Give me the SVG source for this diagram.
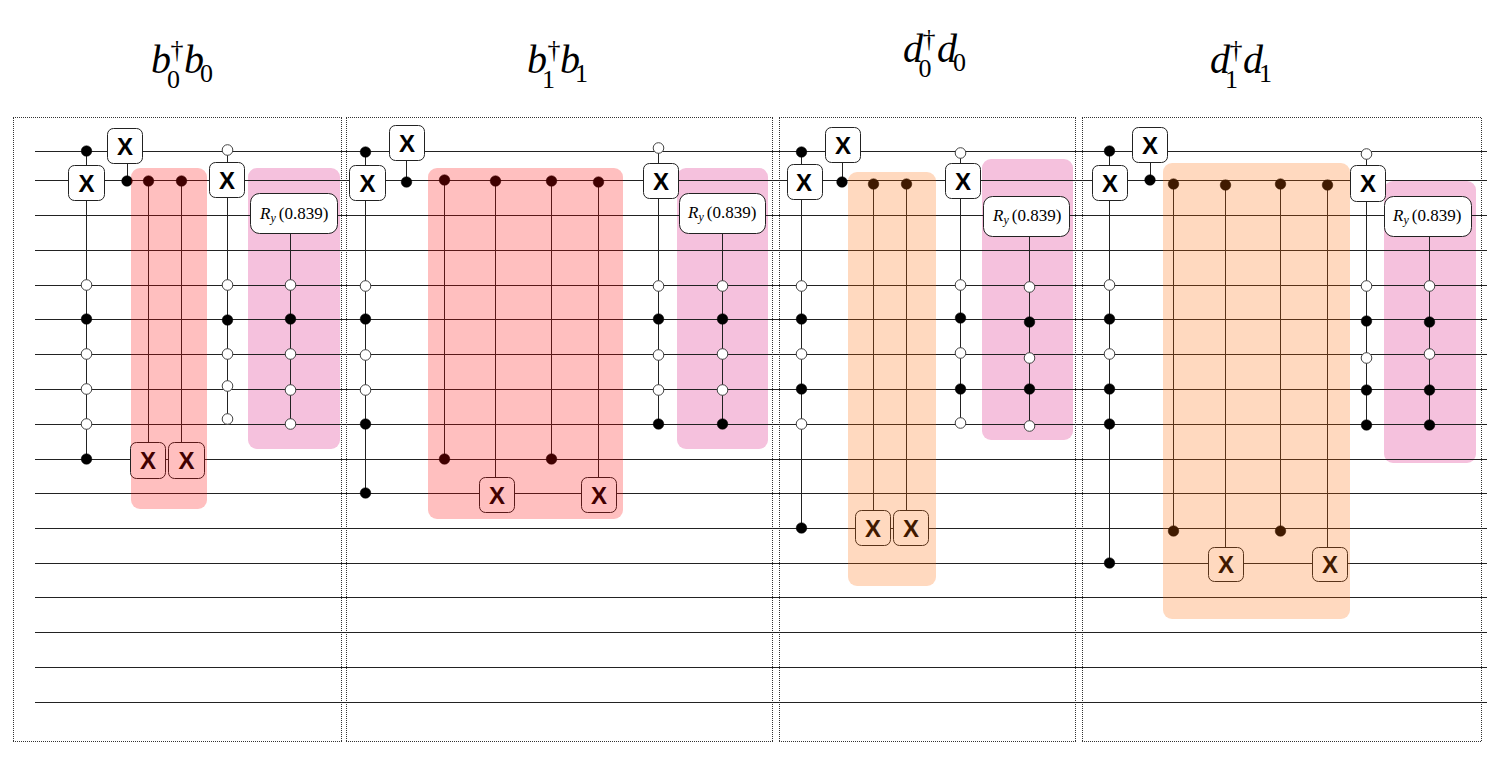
<svg xmlns="http://www.w3.org/2000/svg" width="1491" height="783" viewBox="0 0 1491 783">
<style>
.frame{fill:none;stroke:#333;stroke-width:1;stroke-dasharray:1 1;shape-rendering:crispEdges}
.wire{stroke:#222;stroke-width:1;fill:none}
.b{fill:#000;stroke:#000;stroke-width:.5;r:5.300px}
.w{fill:#fff;stroke:#444;stroke-width:1;r:5.300px}
.box{fill:#fff;stroke:#222;stroke-width:1}
.x{font:bold 24px "Liberation Sans",Arial,sans-serif;text-anchor:middle;fill:#000}
.ry{font:17px "Liberation Serif","Times New Roman",serif;fill:#000}
.i{font-style:italic}
.t{font:italic 40px "Liberation Serif","Times New Roman",serif;fill:#000}
.s{font:26px "Liberation Serif","Times New Roman",serif;fill:#000}
.pink{fill:#f5c1dd}
.red{fill:#f00;fill-opacity:.25}
.org{fill:#f60;fill-opacity:.25}
</style>
<g id="titles">
<g id="title-b0"><text class="t" x="151" y="73">b</text><text class="s" x="170.500" y="58">†</text><text class="s" x="167" y="88">0</text><text class="t" x="184" y="73">b</text><text class="s" x="200" y="82">0</text></g>
<g id="title-b1"><text class="t" x="527" y="73">b</text><text class="s" x="547.500" y="58">†</text><text class="s" x="542" y="88">1</text><text class="t" x="560" y="73">b</text><text class="s" x="575" y="82">1</text></g>
<g id="title-d0"><text class="t" x="903" y="62">d</text><text class="s" x="922.500" y="47">†</text><text class="s" x="918.500" y="77">0</text><text class="t" x="937" y="62">d</text><text class="s" x="953" y="71">0</text></g>
<g id="title-d1"><text class="t" x="1210" y="73">d</text><text class="s" x="1229.500" y="58">†</text><text class="s" x="1225" y="88">1</text><text class="t" x="1243" y="73">d</text><text class="s" x="1259" y="82">1</text></g>
</g>
<g id="frames" class="frame">
<path d="M13 117.500H342M13 741.500H342M13.500 118V742M341.500 118V742"/>
<path d="M346 117.500H773M346 741.500H773M346.500 118V742M772.500 118V742"/>
<path d="M779 117.500H1076M779 741.500H1076M779.500 118V742M1075.500 118V742"/>
<path d="M1082 117.500H1482M1082 741.500H1482M1082.500 118V742M1481.500 118V742"/>
</g>
<g id="backgrounds">
<rect class="pink" x="248" y="168" width="92" height="281" rx="9"/>
<rect class="pink" x="677" y="168" width="91" height="281" rx="9"/>
<rect class="pink" x="982" y="159" width="91" height="281" rx="9"/>
<rect class="pink" x="1384" y="181" width="92" height="282" rx="9"/>
</g>
<g id="connectors" class="wire">
<path d="M35 151.500H1487M35 180.500H1487M35 215.500H1487M35 250.500H1487M35 285.500H1487M35 319.500H1487M35 354.500H1487M35 389.500H1487M35 424.500H1487M35 459.500H1487M35 493.500H1487M35 528.500H1487M35 563.500H1487M35 597.500H1487M35 632.500H1487M35 667.500H1487M35 702.500H1487"/>
<path d="M86.500 151V459M127.500 163V181M148.500 181V442M181.500 181V442M227.500 150V419M290.500 233V424"/>
<path d="M365.500 152V493M406.500 161V182M444.500 180V459M495.500 181V477M551.500 181V459M598.500 182V477M658.500 148V424M722.500 233V424"/>
<path d="M801.500 152V528M842.500 162V182M873.500 184V510M906.500 184V510M960.500 153V423M1029.500 236V426"/>
<path d="M1109.500 151V563M1150.500 162V180M1173.500 185V531M1225.500 185V547M1280.500 185V531M1327.500 185V547M1366.500 154V425M1429.500 236V425"/>
</g>
<g id="gate-b0-1"><circle class="b" cx="86.500" cy="151"/><rect class="box" x="68.500" y="165.500" width="36" height="35" rx="6"/><text class="x" x="86.500" y="192">X</text><circle class="w" cx="86.500" cy="285"/><circle class="b" cx="86.500" cy="319"/><circle class="w" cx="86.500" cy="354"/><circle class="w" cx="86.500" cy="389"/><circle class="w" cx="86.500" cy="424"/><circle class="b" cx="86.500" cy="459"/></g>
<g id="gate-b0-2"><rect class="box" x="107.500" y="128.500" width="35" height="35" rx="6"/><text class="x" x="125" y="155">X</text><circle class="b" cx="127" cy="181"/></g>
<g id="gate-b0-3"><circle class="b" cx="148.500" cy="181"/><rect class="box" x="130.500" y="442.500" width="35" height="36" rx="6"/><text class="x" x="148" y="469">X</text></g>
<g id="gate-b0-4"><circle class="b" cx="181.500" cy="181"/><rect class="box" x="168.500" y="442.500" width="36" height="36" rx="6"/><text class="x" x="186.500" y="469">X</text></g>
<g id="gate-b0-5"><circle class="w" cx="227.500" cy="150"/><rect class="box" x="209.500" y="162.500" width="35" height="35" rx="6"/><text class="x" x="227" y="189">X</text><circle class="w" cx="227.500" cy="285"/><circle class="b" cx="227.500" cy="320"/><circle class="w" cx="227.500" cy="354"/><circle class="w" cx="227.500" cy="386"/><circle class="w" cx="227.500" cy="419"/></g>
<g id="gate-b0-6"><rect class="box" x="250.500" y="193.500" width="87" height="40" rx="9"/><text class="ry" x="260" y="219"><tspan class="i">R</tspan><tspan class="i" font-size="12" dy="3">y</tspan><tspan dy="-3" dx="3">(0.839)</tspan></text><circle class="w" cx="290.500" cy="285"/><circle class="b" cx="290.500" cy="319"/><circle class="w" cx="290.500" cy="354"/><circle class="w" cx="290.500" cy="390"/><circle class="w" cx="290.500" cy="424"/></g>
<g id="gate-b1-1"><circle class="b" cx="365.500" cy="152"/><rect class="box" x="349.500" y="165.500" width="36" height="35" rx="6"/><text class="x" x="367.500" y="192">X</text><circle class="w" cx="365.500" cy="286"/><circle class="b" cx="365.500" cy="319"/><circle class="w" cx="365.500" cy="355"/><circle class="w" cx="365.500" cy="390"/><circle class="b" cx="365.500" cy="424"/><circle class="b" cx="365.500" cy="493"/></g>
<g id="gate-b1-2"><rect class="box" x="389.500" y="125.500" width="35" height="35" rx="6"/><text class="x" x="407" y="152">X</text><circle class="b" cx="406.500" cy="182"/></g>
<g id="gate-b1-3"><circle class="b" cx="444.500" cy="180"/><circle class="b" cx="444.500" cy="459"/></g>
<g id="gate-b1-4"><circle class="b" cx="495.500" cy="181"/><rect class="box" x="479.500" y="477.500" width="35" height="35" rx="6"/><text class="x" x="497" y="504">X</text></g>
<g id="gate-b1-5"><circle class="b" cx="551.500" cy="181"/><circle class="b" cx="551.500" cy="459"/></g>
<g id="gate-b1-6"><circle class="b" cx="598.500" cy="182"/><rect class="box" x="581.500" y="477.500" width="35" height="35" rx="6"/><text class="x" x="599" y="504">X</text></g>
<g id="gate-b1-7"><circle class="w" cx="658.500" cy="148"/><rect class="box" x="643.500" y="163.500" width="35" height="35" rx="6"/><text class="x" x="661" y="190">X</text><circle class="w" cx="658.500" cy="286"/><circle class="b" cx="658.500" cy="319"/><circle class="w" cx="658.500" cy="355"/><circle class="w" cx="658.500" cy="390"/><circle class="b" cx="658.500" cy="424"/></g>
<g id="gate-b1-8"><rect class="box" x="679.500" y="193.500" width="86" height="40" rx="9"/><text class="ry" x="688" y="218"><tspan class="i">R</tspan><tspan class="i" font-size="12" dy="3">y</tspan><tspan dy="-3" dx="3">(0.839)</tspan></text><circle class="w" cx="722.500" cy="286"/><circle class="b" cx="722.500" cy="319"/><circle class="w" cx="722.500" cy="354"/><circle class="w" cx="722.500" cy="390"/><circle class="b" cx="722.500" cy="424"/></g>
<g id="gate-d0-1"><circle class="b" cx="801.500" cy="152"/><rect class="box" x="787.500" y="164.500" width="35" height="35" rx="6"/><text class="x" x="804" y="191">X</text><circle class="w" cx="801.500" cy="286"/><circle class="b" cx="801.500" cy="319"/><circle class="w" cx="801.500" cy="354"/><circle class="b" cx="801.500" cy="389"/><circle class="w" cx="801.500" cy="424"/><circle class="b" cx="801.500" cy="528"/></g>
<g id="gate-d0-2"><rect class="box" x="825.500" y="127.500" width="35" height="35" rx="6"/><text class="x" x="843" y="154">X</text><circle class="b" cx="842" cy="182"/></g>
<g id="gate-d0-3"><circle class="b" cx="873.500" cy="184"/><rect class="box" x="855.500" y="510.500" width="35" height="35" rx="6"/><text class="x" x="873" y="537">X</text></g>
<g id="gate-d0-4"><circle class="b" cx="906.500" cy="184"/><rect class="box" x="893.500" y="510.500" width="35" height="35" rx="6"/><text class="x" x="911" y="537">X</text></g>
<g id="gate-d0-5"><circle class="w" cx="960.500" cy="153"/><rect class="box" x="945.500" y="163.500" width="35" height="35" rx="6"/><text class="x" x="963" y="190">X</text><circle class="w" cx="960.500" cy="285"/><circle class="b" cx="960.500" cy="318"/><circle class="w" cx="960.500" cy="353"/><circle class="b" cx="960.500" cy="389"/><circle class="w" cx="960.500" cy="423"/></g>
<g id="gate-d0-6"><rect class="box" x="983.500" y="196.500" width="86" height="40" rx="9"/><text class="ry" x="993" y="221"><tspan class="i">R</tspan><tspan class="i" font-size="12" dy="3">y</tspan><tspan dy="-3" dx="3">(0.839)</tspan></text><circle class="w" cx="1029.500" cy="287"/><circle class="b" cx="1029.500" cy="322"/><circle class="w" cx="1029.500" cy="358"/><circle class="b" cx="1029.500" cy="389"/><circle class="w" cx="1029.500" cy="426"/></g>
<g id="gate-d1-1"><circle class="b" cx="1109.500" cy="151"/><rect class="box" x="1092.500" y="165.500" width="35" height="35" rx="6"/><text class="x" x="1110" y="192">X</text><circle class="w" cx="1109.500" cy="285"/><circle class="b" cx="1109.500" cy="319"/><circle class="w" cx="1109.500" cy="354"/><circle class="b" cx="1109.500" cy="389"/><circle class="b" cx="1109.500" cy="424"/><circle class="b" cx="1109.500" cy="563"/></g>
<g id="gate-d1-2"><rect class="box" x="1132.500" y="127.500" width="35" height="35" rx="6"/><text class="x" x="1150" y="154">X</text><circle class="b" cx="1150" cy="180"/></g>
<g id="gate-d1-3"><circle class="b" cx="1173.500" cy="184"/><circle class="b" cx="1173.500" cy="531"/></g>
<g id="gate-d1-4"><circle class="b" cx="1225.500" cy="185"/><rect class="box" x="1208.500" y="547.500" width="35" height="34" rx="6"/><text class="x" x="1226" y="573">X</text></g>
<g id="gate-d1-5"><circle class="b" cx="1280.500" cy="184"/><circle class="b" cx="1280.500" cy="531"/></g>
<g id="gate-d1-6"><circle class="b" cx="1327.500" cy="185"/><rect class="box" x="1312.500" y="547.500" width="35" height="34" rx="6"/><text class="x" x="1330" y="573">X</text></g>
<g id="gate-d1-7"><circle class="w" cx="1366.500" cy="154"/><rect class="box" x="1350.500" y="165.500" width="35" height="36" rx="6"/><text class="x" x="1368" y="192">X</text><circle class="w" cx="1366.500" cy="286"/><circle class="b" cx="1366.500" cy="321"/><circle class="w" cx="1366.500" cy="358"/><circle class="b" cx="1366.500" cy="390"/><circle class="b" cx="1366.500" cy="425"/></g>
<g id="gate-d1-8"><rect class="box" x="1384.500" y="196.500" width="87" height="40" rx="9"/><text class="ry" x="1393" y="221"><tspan class="i">R</tspan><tspan class="i" font-size="12" dy="3">y</tspan><tspan dy="-3" dx="3">(0.839)</tspan></text><circle class="w" cx="1429.500" cy="286"/><circle class="b" cx="1429.500" cy="322"/><circle class="w" cx="1429.500" cy="354"/><circle class="b" cx="1429.500" cy="390"/><circle class="b" cx="1429.500" cy="425"/></g>
<g id="overlays">
<rect class="red" x="131" y="168" width="76" height="341" rx="9"/>
<rect class="red" x="428" y="168" width="195" height="351" rx="9"/>
<rect class="org" x="848" y="172" width="88" height="414" rx="9"/>
<rect class="org" x="1163" y="163" width="187" height="456" rx="9"/>
</g>
</svg>
